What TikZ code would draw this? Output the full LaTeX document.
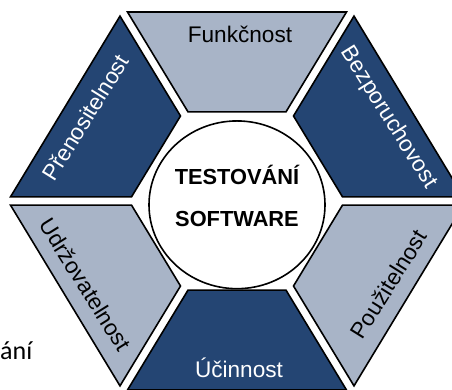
\documentclass[tikz,border=0pt]{standalone}
\usepackage{fontspec}
\setmainfont{Liberation Sans}
\newfontfamily\bodyfont{Carlito}
\usetikzlibrary{calc}

\definecolor{navyfill}{RGB}{36,69,115}
\definecolor{greyfill}{RGB}{168,180,199}

\def\hexR{229}
\def\coreR{108}
\def\gap{5}

\tikzset{
  piece/.style={draw=black, line width=1.6pt},
  darkpiece/.style={piece, fill=navyfill},
  lightpiece/.style={piece, fill=greyfill},
  lbl/.style={font=\fontsize{22.6}{26}\selectfont, inner sep=0pt},
  onlight/.style={lbl, text=black},
  ondark/.style={lbl, text=white},
  hub/.style={draw=black, line width=1.6pt, fill=white},
  title/.style={font=\bfseries\fontsize{21.8}{25}\selectfont, inner sep=0pt, anchor=base}
}

\begin{document}
\begin{tikzpicture}[x=1pt,y=1pt]
  \useasboundingbox (0,0) rectangle (452,390);
  \clip (0,0) rectangle (452,390);
  \coordinate (o) at (237,189);

  \begin{scope}[shift={(o)}, yscale=0.953]
    % six parts of the hexagon
    \foreach \a/\kind in {90/lightpiece,150/darkpiece,210/lightpiece,
                          270/darkpiece,330/lightpiece,30/darkpiece}{
      \draw[\kind] ($({\a-30}:\hexR) + ({\a+90}:\gap)$)
        -- ($({\a+30}:\hexR) + ({\a-90}:\gap)$)
        -- ($({\a+30}:\coreR) + ({\a-90}:\gap)$)
        -- ($({\a-30}:\coreR) + ({\a+90}:\gap)$) -- cycle;
    }

    \draw[hub] (0,-4) circle (88);

    \node[onlight] (funk) at ($(90:175)+(3,0)$) {Funkčnost};
    \node[ondark, rotate=-58] (bezp) at (30:175) {Bezporuchovost};
    \node[onlight, rotate=58] (pouz) at (330:175) {Použitelnost};
    \node[ondark] (ucin) at ($(270:175)+(2,0)$) {Účinnost};
    \node[onlight, rotate=-58] (udrz) at (210:175) {Udržovatelnost};
    \node[ondark, rotate=58] (pren) at (150:175) {Přenositelnost};
  \end{scope}

  \node[title] (test) at ($(o)+(0,16)$) {TESTOVÁNÍ};
  \node[title] (soft) at ($(o)+(0,-26)$) {SOFTWARE};

  \node[anchor=base west, inner sep=0pt, font=\bodyfont\fontsize{26}{30}\selectfont] (frag) at (0,30) {ání};
\end{tikzpicture}
\end{document}
